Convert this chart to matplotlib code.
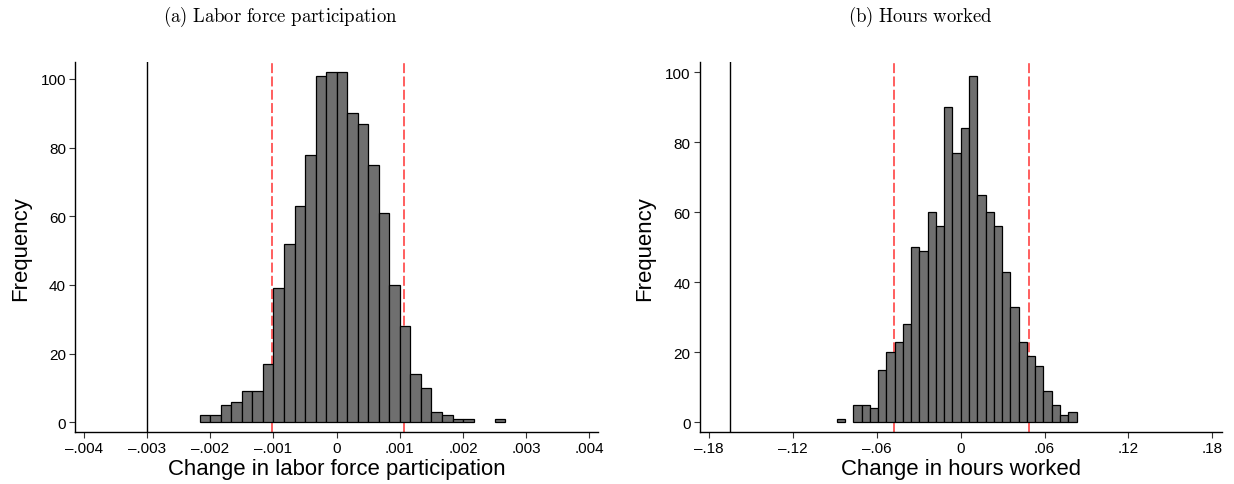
"""Placebo distributions: labor force participation and hours worked histograms."""

import numpy as np
import matplotlib
matplotlib.use("Agg")
import matplotlib.pyplot as plt

plt.rcParams["font.family"] = ["Liberation Sans", "DejaVu Sans"]
plt.rcParams["mathtext.fontset"] = "cm"

# --- panel (a): change in labor force participation ---
lfp_bin_start = -13 / 6000
lfp_bin_width = 1 / 6000
lfp_counts = [2, 2, 5, 6, 9, 9, 17, 39, 52, 63, 78, 101, 102, 102, 90,
              87, 75, 61, 40, 28, 14, 10, 3, 2, 1, 1, 0, 0, 1]
lfp_actual = -0.003
lfp_bounds = [-0.00102, 0.00106]
lfp_xticks = [-0.004, -0.003, -0.002, -0.001, 0, 0.001, 0.002, 0.003, 0.004]
lfp_xlabels = ["\u2013.004", "\u2013.003", "\u2013.002", "\u2013.001", "0",
               ".001", ".002", ".003", ".004"]

# --- panel (b): change in hours worked ---
hrs_bin_start = -15 * 0.00592
hrs_bin_width = 0.00592
hrs_counts = [1, 0, 5, 5, 4, 15, 20, 23, 28, 50, 49, 60, 56, 90, 77,
              84, 99, 65, 60, 56, 43, 33, 23, 19, 16, 9, 5, 2, 3]
hrs_actual = -0.1653
hrs_bounds = [-0.0476, 0.0488]
hrs_xticks = [-0.18, -0.12, -0.06, 0, 0.06, 0.12, 0.18]
hrs_xlabels = ["\u2013.18", "\u2013.12", "\u2013.06", "0", ".06", ".12", ".18"]

yticks = [0, 20, 40, 60, 80, 100]

W, H = 1234, 485


def _axes_rect(x0, x1, y_top, y_bot):
    return [x0 / W, (H - y_bot) / H, (x1 - x0) / W, (y_bot - y_top) / H]


def _panel(ax, start, width, counts, actual, bounds, xlim, ylim,
           xticks, xlabels, xlabel):
    counts = np.asarray(counts)
    lefts = start + width * np.arange(len(counts))
    keep = counts > 0
    ax.axvline(actual, color="black", lw=1.0, zorder=1)
    for b in bounds:
        ax.axvline(b, color="#ff3333", lw=1.1, ls=(0, (6.5, 2.2)), zorder=1)
    ax.bar(lefts[keep], counts[keep], width=width, align="edge",
           color="#6f6f6f", edgecolor="black", linewidth=0.9, zorder=2)

    ax.set_xlim(*xlim)
    ax.set_ylim(*ylim)
    ax.set_xticks(xticks)
    ax.set_xticklabels(xlabels)
    ax.set_yticks(yticks)
    ax.tick_params(axis="both", labelsize=11, length=4.5, width=0.8,
                   color="#333333", pad=2)
    for side in ("top", "right"):
        ax.spines[side].set_visible(False)
    for side in ("left", "bottom"):
        ax.spines[side].set_linewidth(1.0)
    ax.set_xlabel(xlabel, fontsize=15.9, labelpad=2)
    ax.set_ylabel("Frequency", fontsize=15.9, labelpad=7)


fig = plt.figure(figsize=(W / 100, H / 100), dpi=100)

ax1 = fig.add_axes(_axes_rect(75, 598.3, 63, 433.3))
_panel(ax1, lfp_bin_start, lfp_bin_width, lfp_counts, lfp_actual, lfp_bounds,
       (-0.00414, 0.00414), (-2.91, 104.95), lfp_xticks, lfp_xlabels,
       "Change in labor force participation")

ax2 = fig.add_axes(_axes_rect(699.5, 1222, 63, 433.3))
_panel(ax2, hrs_bin_start, hrs_bin_width, hrs_counts, hrs_actual, hrs_bounds,
       (-0.187, 0.187), (-2.86, 102.9), hrs_xticks, hrs_xlabels,
       "Change in hours worked")

fig.text(280 / W, 1 - 17 / H, r"$\mathrm{(a)\ Labor\ force\ participation}$",
         ha="center", va="center", fontsize=13.5)
fig.text(920 / W, 1 - 17 / H, r"$\mathrm{(b)\ Hours\ worked}$",
         ha="center", va="center", fontsize=13.5)

fig.savefig("out.png", dpi=100)
